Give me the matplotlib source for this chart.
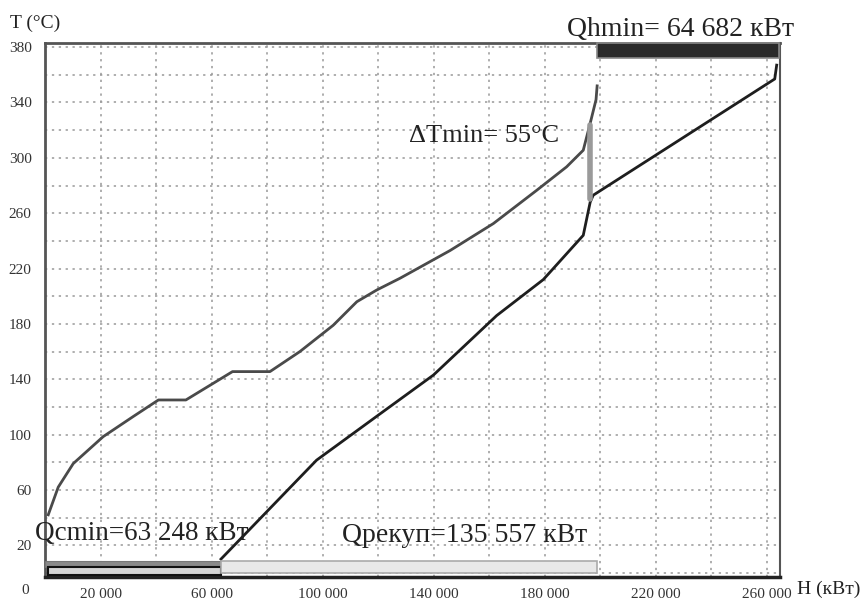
import numpy as np
import matplotlib
matplotlib.use("Agg")
import matplotlib.pyplot as plt
from matplotlib.patches import Rectangle

plt.rcParams['font.family'] = ['Liberation Serif', 'DejaVu Serif']

# Hot composite curve (H kW, T °C)
hot_H = [1000, 4600, 10000, 20800, 31600, 40700, 50600, 67400, 80900, 91700,
         103700, 112200, 119400, 127800, 145800, 161400, 177000, 187800,
         193800, 196300, 198400, 198800]
hot_T = [42, 62, 79, 98.5, 113, 125, 125, 145.5, 145.5, 160,
         179, 196, 204.5, 213, 233, 252.5, 276.5, 293.5,
         305.5, 325, 342, 352]

# Cold composite curve
cold_H = [63248, 97700, 120600, 139800, 162600, 179400, 193800, 196300,
          197400, 262800, 263500]
cold_T = [10, 81.5, 115, 143, 186, 212, 244, 268, 273, 357, 367]

Qcmin = 63248
Qrecup = 135557
Qhmin = 64682
dT_H = 196300
dT_range = [270, 324]

x_ticks = [20000, 60000, 100000, 140000, 180000, 220000, 260000]
x_labels = ['20 000', '60 000', '100 000', '140 000', '180 000', '220 000', '260 000']
y_ticks = [20, 60, 100, 140, 180, 220, 260, 300, 340, 380]

fig = plt.figure(figsize=(8.66, 6.03), dpi=100)
ax = fig.add_axes([0.0525, 0.043, 0.8482, 0.8857])
ax.set_xlim(0, 264700)
ax.set_ylim(-3, 383)

ax.set_xticks(x_ticks)
ax.set_xticklabels(x_labels)
ax.set_xticks(np.arange(0, 264701, 20000), minor=True)
ax.set_yticks(y_ticks)
ax.set_yticks(np.arange(0, 381, 20), minor=True)
ax.tick_params(which='both', length=0)
ax.tick_params(axis='x', labelsize=11, pad=8, colors='#333')
ax.tick_params(axis='y', labelsize=11, pad=10, colors='#333')
ax.grid(True, which='both', linestyle=(0, (1.5, 3)), color='#999999', linewidth=1.1)
ax.set_axisbelow(True)

for s in ['left', 'top']:
    ax.spines[s].set_linewidth(2)
    ax.spines[s].set_color('#555555')
ax.spines['right'].set_linewidth(1.5)
ax.spines['right'].set_color('#555555')
ax.spines['bottom'].set_linewidth(2.5)
ax.spines['bottom'].set_color('#222222')

# curves
ax.plot(hot_H, hot_T, color='#4a4a4a', lw=2, zorder=3)
ax.plot(cold_H, cold_T, color='#1e1e1e', lw=2, zorder=3)
ax.plot([dT_H, dT_H], dT_range, color='#9a9a9a', lw=4, solid_capstyle='round', zorder=4)

# utility / recovery bars
ax.add_patch(Rectangle((0, 4), Qcmin, 4.5, facecolor='#8a8a8a', edgecolor='#777777', lw=0.8, zorder=5))
ax.add_patch(Rectangle((1000, -1.5), Qcmin - 1000, 5.5, facecolor='#d5d5d5', edgecolor='#111111', lw=1.5, zorder=5))
ax.add_patch(Rectangle((Qcmin, 0), Qrecup, 8.5, facecolor='#e8e8e8', edgecolor='#aaaaaa', lw=1.2, zorder=5))
ax.add_patch(Rectangle((Qcmin + Qrecup, 372), Qhmin + 700, 11, facecolor='#2a2a2a', edgecolor='#888888',
                       lw=1.2, zorder=5, clip_on=False))

# annotations
ax.text(187950, 388, 'Qhmin= 64 682 кВт', fontsize=20, va='baseline', ha='left', clip_on=False, color='#222')
ax.text(131000, 311.6, 'ΔTmin= 55°C', fontsize=19, va='baseline', ha='left', color='#222')
ax.text(-3700, 23.8, 'Qcmin=63 248 кВт', fontsize=19.5, va='baseline', ha='left', clip_on=False, color='#222', zorder=6)
ax.text(106860, 22.6, 'Qрекуп=135 557 кВт', fontsize=20, va='baseline', ha='left', color='#222', zorder=6)

fig.text(10 / 866, 1 - 28 / 603, 'T (°C)', fontsize=14, va='baseline', ha='left', color='#222')
fig.text(797 / 866, 1 - 594 / 603, 'H (кВт)', fontsize=14, va='baseline', ha='left', color='#222')
fig.text(25 / 866, 1 - 590 / 603, '0', fontsize=11, va='center', ha='center', color='#333')

fig.savefig('out.png', dpi=100)
